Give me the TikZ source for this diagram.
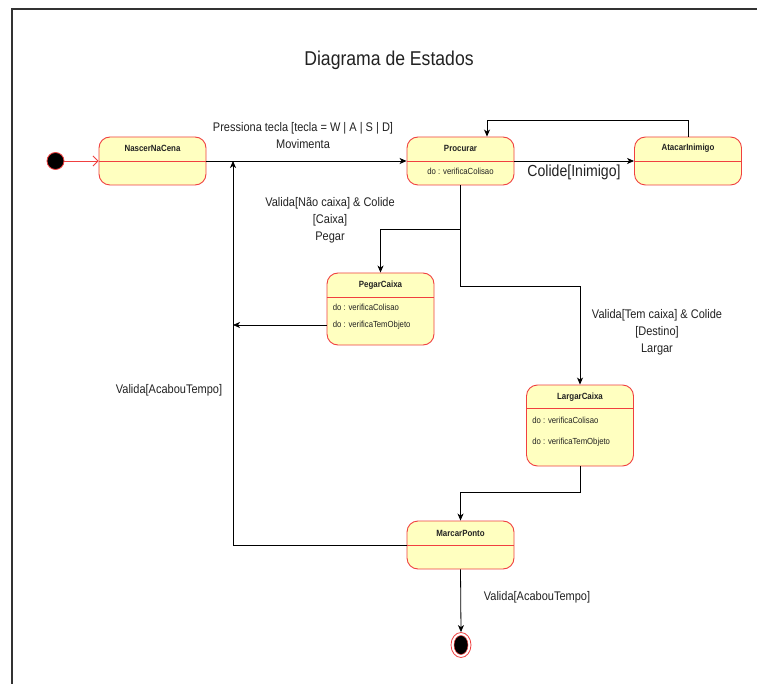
\documentclass[tikz,border=0pt]{standalone}
\usepackage{fontspec}
\setmainfont{Liberation Sans}[FakeStretch=0.88]
\usetikzlibrary{arrows.meta,shapes.geometric}
\definecolor{stateline}{HTML}{F04040}
\definecolor{statefill}{HTML}{FFFFC0}
\definecolor{ink}{HTML}{222222}
\definecolor{framegray}{HTML}{333333}

\begin{document}
\begin{tikzpicture}[x=1pt,y=-1pt,
  frame/.style={draw=framegray, line width=1.2pt},
  state/.style={draw=stateline, fill=statefill, rounded corners=11pt,
    line width=0.9pt, minimum width=107pt, inner sep=0pt},
  divider/.style={draw=stateline, line width=0.9pt},
  sname/.style={font=\fontsize{9}{11}\selectfont\bfseries, text=ink, inner sep=0pt},
  sdo/.style={font=\fontsize{8.8}{11}\selectfont, text=ink, inner sep=0pt},
  arr/.style={draw=black, line width=0.8pt,
    -{Stealth[length=7pt,width=6pt,inset=2pt]}},
  lbl/.style={font=\fontsize{12.5}{17}\selectfont, text=ink, align=center, inner sep=0pt},
]
\useasboundingbox (0,0) rectangle (757,684);
\fill[white] (0,0) rectangle (757,684);
\draw[frame] (757,9) -- (12,9) -- (12,684);

% title
\node[font=\fontsize{20}{24}\selectfont, text=ink] (title) at (389,60) {Diagrama de Estados};

% states
\node[state, minimum height=48pt] (nascer) at (152.5,161) {};
\node[state, minimum height=48pt] (proc)   at (460.5,161) {};
\node[state, minimum height=48pt] (atac)   at (688,161) {};
\node[state, minimum height=72pt] (pegar)  at (380.5,309) {};
\node[state, minimum height=81pt] (largar) at (580,425.5) {};
\node[state, minimum height=48pt] (marcar) at (460.5,545) {};

% compartment lines
\draw[divider] (nascer.west) -- (nascer.east);
\draw[divider] (proc.west) -- (proc.east);
\draw[divider] (atac.west) -- (atac.east);
\draw[divider] ([yshift=-25pt]pegar.north west) -- ([yshift=-25pt]pegar.north east);
\draw[divider] ([yshift=-24pt]largar.north west) -- ([yshift=-24pt]largar.north east);
\draw[divider] (marcar.west) -- (marcar.east);

% state names and activities
\node[sname] (nascerT) at ([yshift=-12pt]nascer.north) {NascerNaCena};
\node[sname] (procT)   at ([yshift=-12pt]proc.north) {Procurar};
\node[sdo]   (procD)   at ([yshift=-35pt]proc.north) {do : verificaColisao};
\node[sname] (atacT)   at ([yshift=-12pt]atac.north) {AtacarInimigo};
\node[sname] (pegarT)  at ([yshift=-12.5pt]pegar.north) {PegarCaixa};
\node[sdo, anchor=west] (pegarD1) at ([xshift=6pt,yshift=-35pt]pegar.north west) {do : verificaColisao};
\node[sdo, anchor=west] (pegarD2) at ([xshift=6pt,yshift=-53pt]pegar.north west) {do : verificaTemObjeto};
\node[sname] (largarT) at ([yshift=-13pt]largar.north) {LargarCaixa};
\node[sdo, anchor=west] (largarD1) at ([xshift=6pt,yshift=-36pt]largar.north west) {do : verificaColisao};
\node[sdo, anchor=west] (largarD2) at ([xshift=6pt,yshift=-58pt]largar.north west) {do : verificaTemObjeto};
\node[sname] (marcarT) at ([yshift=-13pt]marcar.north) {MarcarPonto};

% initial and final pseudo-states
\node[circle, draw=stateline, fill=black, line width=0.8pt, minimum size=17pt, inner sep=0pt] (ini) at (55.5,161) {};
\node[ellipse, draw=stateline, line width=0.8pt, minimum width=20pt, minimum height=25pt, inner sep=0pt] (fim) at (461,645) {};
\node[ellipse, draw=stateline, fill=black, line width=0.5pt, minimum width=14pt, minimum height=19pt, inner sep=0pt] (fimIn) at (461,645) {};

% junction points on the return line
\coordinate (joinTop) at (233,161);
\coordinate (joinPeg) at (233,325);

% transitions
\draw[draw=stateline, line width=0.8pt, -{Straight Barb[length=5pt,width=10pt]}] (ini) -- (nascer.west);
\draw[arr] (nascer.east) -- (proc.west);
\draw[arr] (proc.east) -- (atac.west);
\draw[arr] (atac.north) -- ++(0,-16) -| ([xshift=26.5pt]proc.north);
\draw[arr] (proc.south) -- ++(0,44) -| (pegar.north);
\draw[arr] (proc.south) -- ++(0,101) -| (largar.north);
\draw[arr] ([yshift=-16pt]pegar.west) -- (joinPeg);
\draw[arr] (largar.south) -- ++(0,26) -| (marcar.north);
\draw[arr] (marcar.west) -| (joinTop);
\draw[arr] (marcar.south) -- (fim.north);

% transition labels
\node[lbl] (lMov) at (303,136) {Pressiona tecla [tecla = W | A | S | D]\\Movimenta};
\node[lbl, font=\fontsize{16}{19}\selectfont] (lCol) at (574,172.5) {Colide[Inimigo]};
\node[lbl] (lPeg) at (330,220) {Valida[Não caixa] \& Colide\\{}[Caixa]\\Pegar};
\node[lbl] (lLar) at (657,332) {Valida[Tem caixa] \& Colide\\{}[Destino]\\Largar};
\node[lbl] (lTempo1) at (169,390) {Valida[AcabouTempo]};
\node[lbl] (lTempo2) at (537,597) {Valida[AcabouTempo]};
\end{tikzpicture}
\end{document}
